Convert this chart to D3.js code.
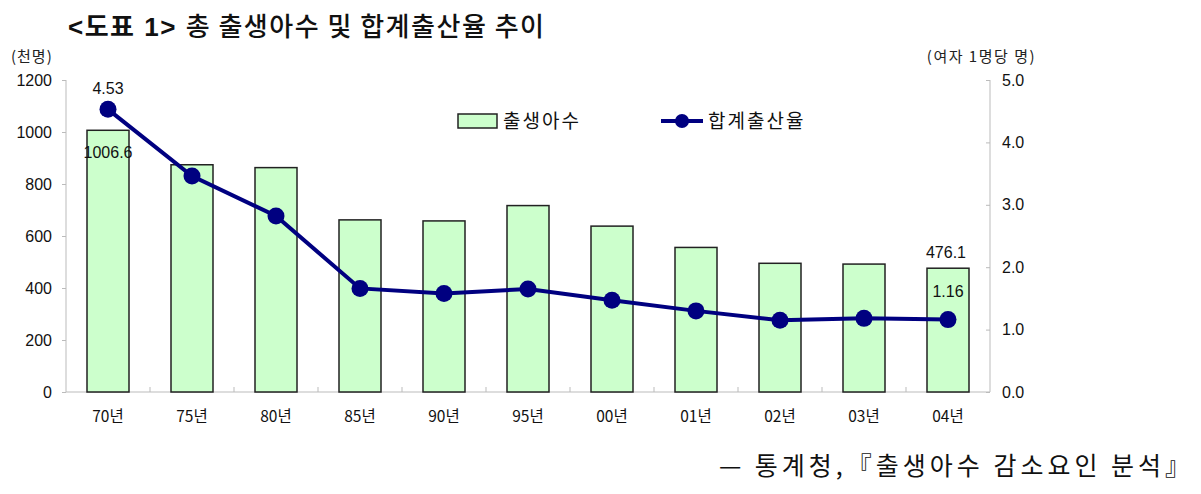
<!DOCTYPE html>
<html>
<head>
<meta charset="utf-8">
<script src="https://cdn.jsdelivr.net/npm/d3@7/dist/d3.min.js"></script>
<style>
  body { margin: 0; background: #fff; }
  svg { display: block; }
  text { font-family: "Liberation Sans", Arial, "Noto Sans CJK KR", sans-serif; }
  .kr { font-family: "Noto Sans CJK KR", "Liberation Sans", sans-serif; }
</style>
</head>
<body>
<svg id="chart"></svg>
<script>
// data
const years = ["70년", "75년", "80년", "85년", "90년", "95년", "00년", "01년", "02년", "03년", "04년"];
const births = [1006.6, 874, 863, 662, 658, 717, 638, 556, 495, 492, 476.1];
const tfr = [4.53, 3.46, 2.82, 1.66, 1.58, 1.65, 1.47, 1.30, 1.15, 1.18, 1.16];
const leftTicks = [0, 200, 400, 600, 800, 1000, 1200];
const rightTicks = [0, 1, 2, 3, 4, 5];

const width = 1201;
const height = 494;
const svg = d3.select("#chart").attr("width", width).attr("height", height);

const plotLeft = 66, plotRight = 990, plotTop = 80, plotBottom = 392;

const x = d3.scaleBand().domain(years).range([plotLeft, plotRight]).paddingInner(0.5).paddingOuter(0.25);
const yL = d3.scaleLinear().domain([0, 1200]).range([plotBottom, plotTop]);
const yR = d3.scaleLinear().domain([0, 5]).range([plotBottom, plotTop]);

// title
const title = svg.append("text").attr("x", 68).attr("y", 36).attr("class", "kr")
  .attr("font-size", 26).attr("letter-spacing", 1.5).attr("fill", "#111");
title.append("tspan").attr("font-weight", "bold").attr("font-family", "Liberation Sans, Noto Sans CJK KR").text("<도표 1> ");
title.append("tspan").attr("font-weight", 500).text("총 출생아수 및 합계출산율 추이");

// unit labels
svg.append("text").attr("class", "kr").attr("x", 11).attr("y", 62).attr("font-size", 15)
  .attr("letter-spacing", 1).attr("fill", "#222").text("(천명)");
svg.append("text").attr("class", "kr").attr("x", 1036).attr("y", 62).attr("text-anchor", "end")
  .attr("font-size", 15).attr("letter-spacing", 1.5).attr("fill", "#222").text("(여자 1명당 명)");

// left axis
const gL = svg.append("g").attr("transform", `translate(${plotLeft},0)`)
  .call(d3.axisLeft(yL).tickValues(leftTicks).tickFormat(d3.format("d")).tickSize(4).tickPadding(10));
gL.select(".domain").attr("stroke", "#bbb").attr("d", `M0,${plotTop}V${plotBottom}`);
gL.selectAll(".tick line").attr("stroke", "#bbb");
gL.selectAll(".tick text").attr("font-size", 16).attr("fill", "#111").attr("font-family", "Liberation Sans");

// right axis (ticks pointing inward)
const gR = svg.append("g").attr("transform", `translate(${plotRight},0)`)
  .call(d3.axisRight(yR).tickValues(rightTicks).tickFormat(d3.format(".1f")).tickSize(0).tickPadding(12));
gR.select(".domain").attr("stroke", "#bbb").attr("d", `M0,${plotTop}V${plotBottom}`);
gR.selectAll(".tick").append("line").attr("x1", -4).attr("x2", 0).attr("stroke", "#bbb");
gR.selectAll(".tick text").attr("font-size", 16).attr("fill", "#111").attr("font-family", "Liberation Sans");

// bottom axis
const gap = (x.step() - x.bandwidth()) / 2;
svg.append("line").attr("x1", plotLeft).attr("x2", plotRight).attr("y1", plotBottom).attr("y2", plotBottom).attr("stroke", "#bbb");
svg.selectAll(".btick").data(years.slice(1)).join("line")
  .attr("class", "btick")
  .attr("x1", d => x(d) - gap).attr("x2", d => x(d) - gap)
  .attr("y1", plotBottom).attr("y2", plotBottom - 5).attr("stroke", "#bbb");
svg.selectAll(".xlabel").data(years).join("text")
  .attr("class", "xlabel kr")
  .attr("x", d => x(d) + x.bandwidth() / 2).attr("y", plotBottom + 30)
  .attr("text-anchor", "middle").attr("font-size", 15.5).attr("fill", "#111").text(d => d);

// bars
svg.selectAll(".bar").data(births).join("rect")
  .attr("class", "bar")
  .attr("x", (d, i) => x(years[i]))
  .attr("y", d => yL(d))
  .attr("width", x.bandwidth())
  .attr("height", d => plotBottom - yL(d))
  .attr("fill", "#ccffcc").attr("stroke", "#222").attr("stroke-width", 1.5);

// line
const cx = i => x(years[i]) + x.bandwidth() / 2;
const line = d3.line().x((d, i) => cx(i)).y(d => yR(d));
svg.append("path").datum(tfr).attr("d", line)
  .attr("fill", "none").attr("stroke", "#000080").attr("stroke-width", 4);
svg.selectAll(".dot").data(tfr).join("circle")
  .attr("class", "dot")
  .attr("cx", (d, i) => cx(i))
  .attr("cy", d => yR(d)).attr("r", 8.5).attr("fill", "#000080");

// data labels
const last = years.length - 1;
svg.append("text").attr("x", cx(0)).attr("y", yR(tfr[0]) - 15).attr("text-anchor", "middle")
  .attr("font-size", 16).attr("fill", "#111").text(tfr[0].toFixed(2));
svg.append("text").attr("x", cx(0)).attr("y", yL(births[0]) + 28).attr("text-anchor", "middle")
  .attr("font-size", 16).attr("fill", "#111").text(births[0].toFixed(1));
svg.append("text").attr("x", cx(last) - 2).attr("y", yL(births[last]) - 10).attr("text-anchor", "middle")
  .attr("font-size", 16).attr("fill", "#111").text(births[last].toFixed(1));
svg.append("text").attr("x", cx(last)).attr("y", yR(tfr[last]) - 23).attr("text-anchor", "middle")
  .attr("font-size", 16).attr("fill", "#111").text(tfr[last].toFixed(2));

// legend
svg.append("rect").attr("x", 458).attr("y", 114).attr("width", 39).attr("height", 14)
  .attr("fill", "#ccffcc").attr("stroke", "#222").attr("stroke-width", 1.5);
svg.append("text").attr("class", "kr").attr("x", 503).attr("y", 128).attr("font-size", 19)
  .attr("letter-spacing", 2).attr("fill", "#111").text("출생아수");
svg.append("line").attr("x1", 661).attr("x2", 703).attr("y1", 121).attr("y2", 121)
  .attr("stroke", "#000080").attr("stroke-width", 4);
svg.append("circle").attr("cx", 682).attr("cy", 121).attr("r", 7).attr("fill", "#000080");
svg.append("text").attr("class", "kr").attr("x", 708).attr("y", 128).attr("font-size", 19)
  .attr("letter-spacing", 2).attr("fill", "#111").text("합계출산율");

// source
svg.append("text").attr("class", "kr").attr("x", 1194).attr("y", 475).attr("text-anchor", "end")
  .attr("font-size", 25).attr("letter-spacing", 4).attr("fill", "#111")
  .text("— 통계청,『출생아수 감소요인 분석』");
</script>
</body>
</html>
